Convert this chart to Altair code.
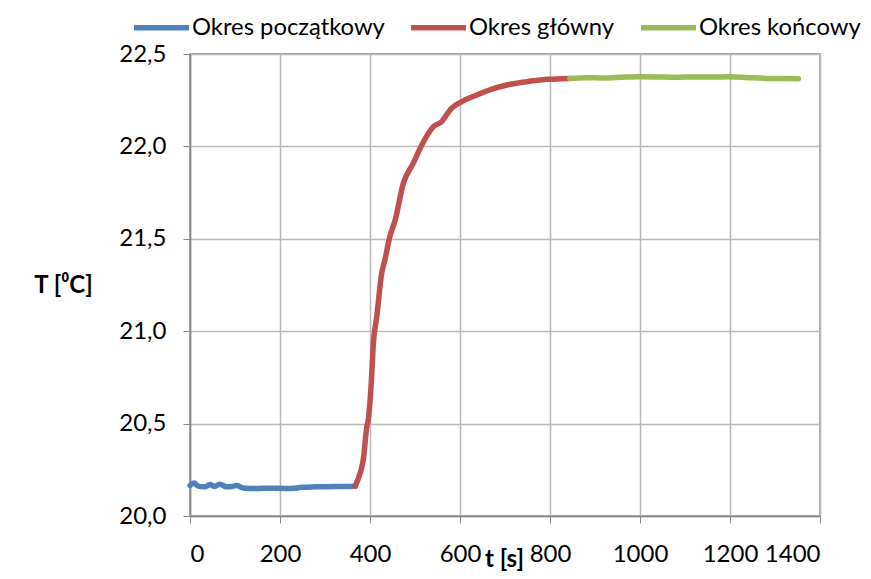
import altair as alt
import pandas as pd

series_names = ["Okres początkowy", "Okres główny", "Okres końcowy"]
series_colors = ["#4F81BD", "#C0504D", "#9BBB59"]

t_initial = [0, 9, 18, 33, 44, 55, 66, 81, 95, 104, 115, 122, 150, 180, 210, 233, 248, 280, 322, 345, 367]
T_initial = [20.165, 20.178, 20.162, 20.158, 20.170, 20.160, 20.172, 20.158, 20.160, 20.165, 20.154,
             20.150, 20.149, 20.150, 20.149, 20.150, 20.156, 20.158, 20.160, 20.160, 20.161]

t_main = [367, 378, 385, 393, 396, 404, 407, 415, 426, 433, 444, 456, 474, 496, 515, 541, 559, 581,
          604, 637, 659, 704, 748, 793, 844]
T_main = [20.161, 20.231, 20.303, 20.483, 20.519, 20.772, 20.916, 21.078, 21.313, 21.385, 21.511, 21.602,
          21.800, 21.908, 22.008, 22.107, 22.134, 22.206, 22.242, 22.278, 22.300, 22.332, 22.350, 22.363,
          22.368]

t_final = [844, 880, 920, 960, 1000, 1040, 1080, 1120, 1160, 1200, 1240, 1280, 1320, 1352]
T_final = [22.368, 22.372, 22.370, 22.374, 22.377, 22.376, 22.374, 22.376, 22.375, 22.377, 22.372,
           22.368, 22.367, 22.366]

x_ticks = [0, 200, 400, 600, 800, 1000, 1200, 1400]
y_ticks = [20.0, 20.5, 21.0, 21.5, 22.0, 22.5]

rows = []
for name, ts, Ts in zip(series_names, [t_initial, t_main, t_final], [T_initial, T_main, T_final]):
    for a, b in zip(ts, Ts):
        rows.append({"t": a, "T": b, "series": name})
df = pd.DataFrame(rows)

FONT = "Lato"
GRID = "#b9b9b9"
AXIS = "#868686"
FS = 24

chart = alt.Chart(df).mark_line(strokeWidth=5.5, strokeJoin="round", strokeCap="round",
                                interpolate="monotone").encode(
    x=alt.X("t:Q",
            scale=alt.Scale(domain=[0, 1400], nice=False),
            axis=alt.Axis(values=x_ticks, title="t [s]", format="d",
                          labelFont=FONT, labelFontSize=FS, labelColor="#000000",
                          labelPadding=19, tickSize=7, tickColor=AXIS, domainColor=AXIS,
                          domainWidth=1.5, gridColor=GRID, gridWidth=1.5,
                          titleFont=FONT, titleFontSize=FS, titleFontWeight="bold", titleColor="#000000",
                          titleX=314, titleY=50, titleAlign="center", titleBaseline="alphabetic")),
    y=alt.Y("T:Q",
            scale=alt.Scale(domain=[20.0, 22.5], nice=False, zero=False),
            axis=alt.Axis(values=y_ticks, title="T [⁰C]",
                          labelExpr="replace(format(datum.value, '.1f'), '.', ',')",
                          labelFont=FONT, labelFontSize=FS, labelColor="#000000",
                          labelPadding=17, tickSize=7, tickColor=AXIS, domainColor=AXIS,
                          domainWidth=1.5, gridColor=GRID, gridWidth=1.5,
                          titleFont=FONT, titleFontSize=FS, titleFontWeight="bold", titleColor="#000000",
                          titleAngle=0, titleX=-127, titleY=231, titleAlign="center",
                          titleBaseline="middle")),
    color=alt.Color("series:N",
                    scale=alt.Scale(domain=series_names, range=series_colors),
                    legend=alt.Legend(title=None, orient="none", direction="horizontal",
                                      legendX=-59, legendY=-57, padding=0,
                                      symbolType="stroke", symbolStrokeWidth=5.5, symbolSize=3025,
                                      labelFont=FONT, labelFontSize=23.8, labelColor="#000000",
                                      labelLimit=0, labelOffset=0, columnPadding=15)),
    order=alt.Order("t:Q"),
).properties(
    width=630, height=462,
    padding={"left": 182, "top": 46, "right": 43, "bottom": 55},
    autosize=alt.AutoSizeParams(type="none"),
).configure_view(stroke=AXIS, strokeWidth=1.5)

chart.save("out.html", embed_options={"renderer": "svg", "actions": False})
